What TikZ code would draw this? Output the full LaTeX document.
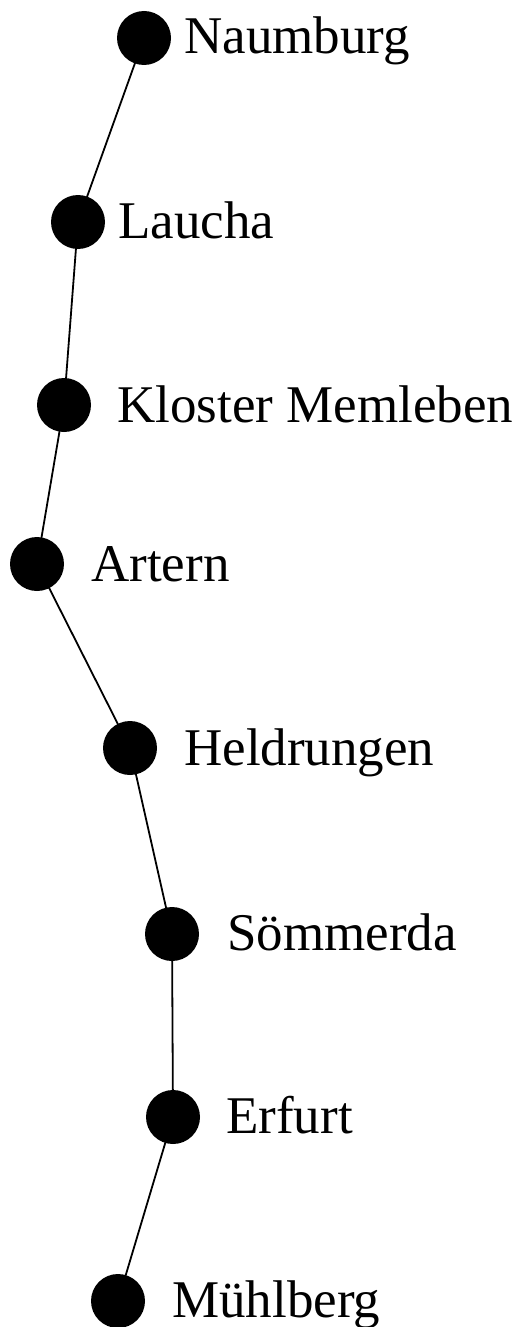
\documentclass[tikz,border=0pt]{standalone}
\usepackage{fontspec}
\setmainfont{Liberation Serif}
\usetikzlibrary{backgrounds}
\begin{document}
\begin{tikzpicture}[x=1pt,y=-1pt,
  station/.style={circle,fill=black,draw=none,minimum size=54pt,inner sep=0pt},
  lbl/.style={anchor=base west,inner sep=0pt,font=\fontsize{53}{53}\selectfont},
  track/.style={line width=1.8pt,black}]
\useasboundingbox (0,0) rectangle (519,1327);
\node[station] (nau) at (144,38) {};
\node[station] (lau) at (78,222) {};
\node[station] (klo) at (64,405) {};
\node[station] (art) at (37,564) {};
\node[station] (hel) at (130,748) {};
\node[station] (som) at (172,934) {};
\node[station] (erf) at (173,1117) {};
\node[station] (muh) at (118,1301) {};
\begin{scope}[on background layer]
\draw[track] (nau.center) -- (lau.center) -- (klo.center) -- (art.center) -- (hel.center) -- (som.center) -- (erf.center) -- (muh.center);
\end{scope}
\node[lbl] (tnau) at (184,54) {Naumburg};
\node[lbl] (tlau) at (118,238) {Laucha};
\node[lbl] (tklo) at (117,422) {Kloster Memleben};
\node[lbl] (tart) at (91,581) {Artern};
\node[lbl] (thel) at (184,765) {Heldrungen};
\node[lbl] (tsom) at (227,950) {Sömmerda};
\node[lbl] (terf) at (226,1133) {Erfurt};
\node[lbl] (tmuh) at (172,1317) {Mühlberg};
\end{tikzpicture}
\end{document}
